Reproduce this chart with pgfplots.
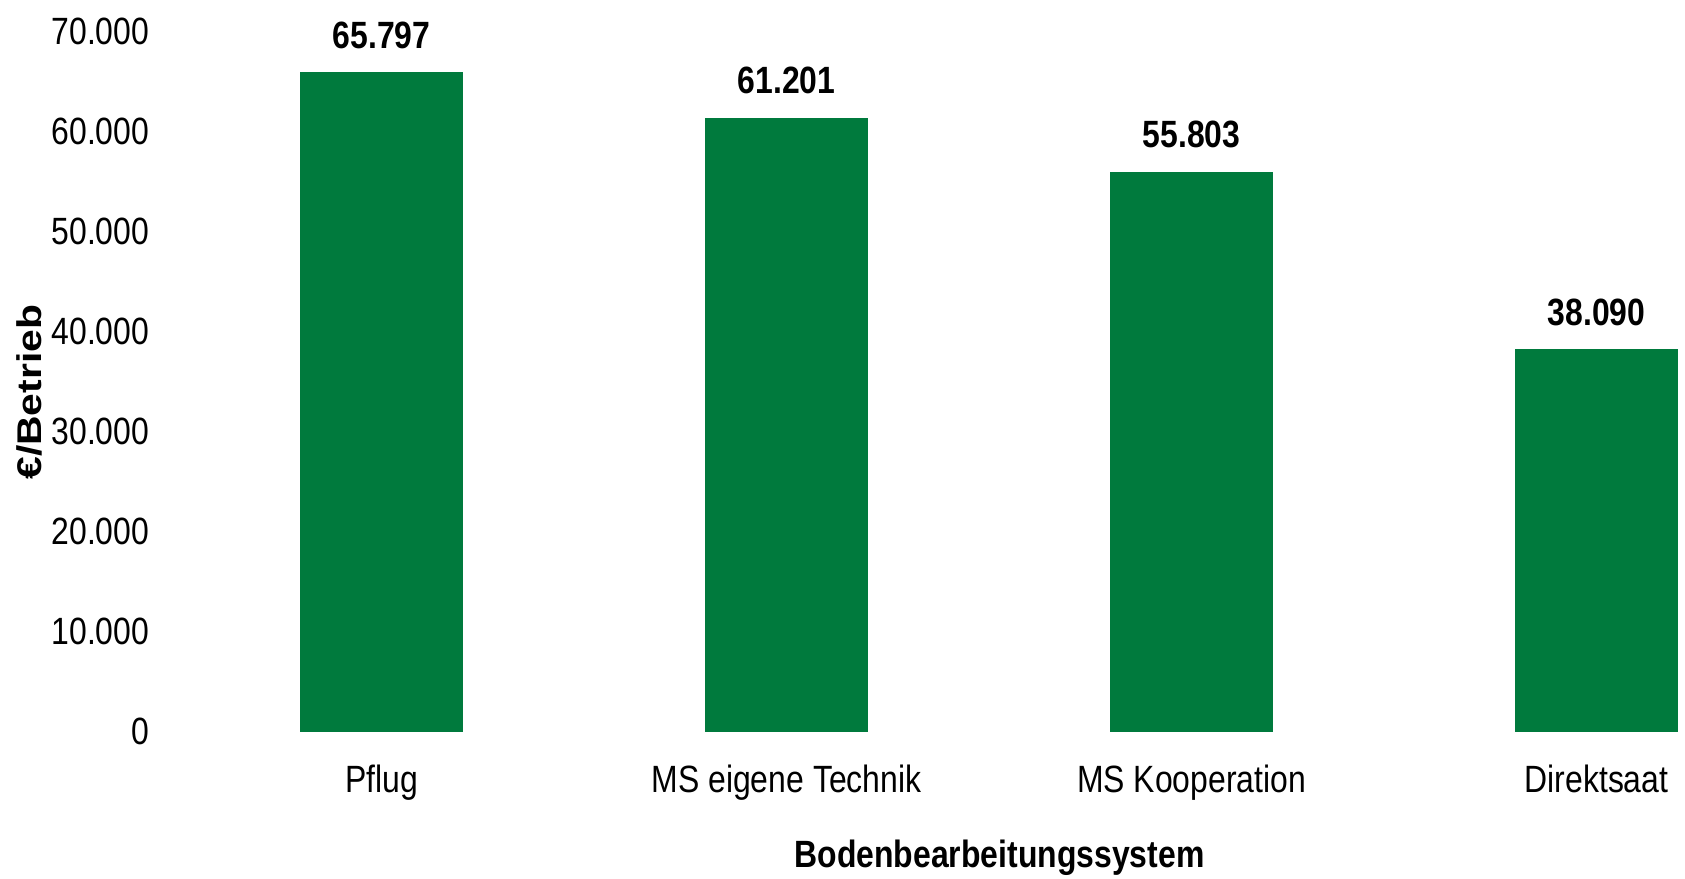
\documentclass[border=0pt]{standalone}
\usepackage{fontspec}
\setmainfont{Liberation Sans}[FakeStretch=0.84]
\newfontfamily\ylfont{Liberation Sans}
\usepackage{graphicx}
\usepackage{pgfplots}
\pgfplotsset{compat=1.18}
\definecolor{barg}{RGB}{0,122,61}
\begin{document}
\begin{tikzpicture}
\path[use as bounding box] (-44.75pt,-37pt) rectangle (376.5pt,182.75pt);
\begin{axis}[
  at={(0,0)}, anchor=south west,
  scale only axis, width=376.4pt, height=175pt,
  xmin=-0.5, xmax=3.2175, ymin=0, ymax=70000,
  axis line style={draw=none},
  major tick length=0pt,
  ytick={0,10000,20000,30000,40000,50000,60000,70000},
  scaled y ticks=false,
  xtick={0,1,2,3},
  xticklabels={Pflug, MS eigene Technik, MS Kooperation, Direktsaat},
  /pgf/number format/.cd, fixed, precision=0, 1000 sep={.}, assume math mode=true,
  /pgfplots/.cd,
  tick label style={font=\fontsize{9.5}{11}\selectfont},
  yticklabel style={anchor=east, inner sep=0pt, xshift=-7.25pt},
  xticklabel style={anchor=base, inner sep=0pt, yshift=-15.5pt},
  ybar, bar width=0.398,
  nodes near coords,
  every node near coord/.append style={font=\fontsize{9.5}{11}\selectfont\bfseries, anchor=base, inner sep=0pt, yshift=6.25pt},
  xlabel={\bfseries Bodenbearbeitungssystem},
  xlabel style={font=\fontsize{9.5}{11}\selectfont, at={(rel axis cs:0.545,0)}, anchor=base, inner sep=0pt, yshift=-34.25pt},
  ylabel={\scalebox{1}[0.84]{\ylfont\bfseries €/Betrieb}},
  ylabel style={font=\fontsize{10.2}{12}\selectfont, at={(rel axis cs:0,0.484)}, anchor=center, inner sep=0pt, yshift=37.5pt},
]
\addplot[fill=barg, draw=barg] coordinates {(0,65797) (1,61201) (2,55803) (3,38090)};
\end{axis}
\end{tikzpicture}
\end{document}
